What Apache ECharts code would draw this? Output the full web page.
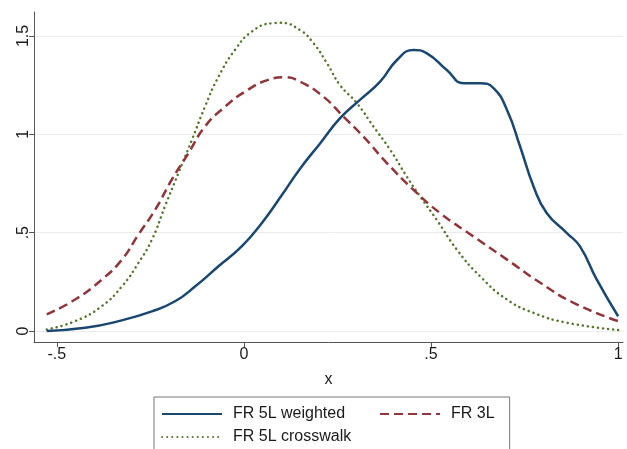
<!DOCTYPE html>
<html>
<head>
<meta charset="utf-8">
<script src="https://cdn.jsdelivr.net/npm/echarts@6/dist/echarts.min.js"></script>
<style>html,body{margin:0;padding:0;background:#fff;}#c{width:627px;height:449px;}</style>
</head>
<body>
<div id="c"></div>
<script>
// ---- data ----
const seriesNames = ['FR 5L weighted', 'FR 3L', 'FR 5L crosswalk'];

const weightedX = [-0.527,-0.424,-0.335,-0.246,-0.184,-0.13,-0.068,-0.006,0.048,0.101,0.150,0.204,0.257,0.31,0.364,0.409,0.453,0.489,0.542,0.587,0.631,0.667,0.703,0.738,0.774,0.809,0.863,0.898,0.943,1.0];
const weightedY = [0.0,0.016,0.05,0.10,0.151,0.227,0.329,0.43,0.549,0.69,0.825,0.955,1.082,1.175,1.268,1.378,1.429,1.412,1.327,1.26,1.26,1.235,1.124,0.938,0.735,0.60,0.498,0.43,0.261,0.075];

const threeLX = [-0.527,-0.451,-0.38,-0.326,-0.282,-0.237,-0.193,-0.148,-0.104,-0.05,0.003,0.065,0.11,0.150,0.212,0.266,0.319,0.382,0.453,0.524,0.613,0.703,0.792,0.881,1.0];
const threeLY = [0.084,0.16,0.261,0.363,0.49,0.617,0.769,0.905,1.04,1.141,1.217,1.277,1.29,1.268,1.192,1.09,0.989,0.854,0.718,0.60,0.481,0.363,0.245,0.143,0.05];

const crossX = [-0.527,-0.451,-0.38,-0.326,-0.282,-0.246,-0.211,-0.175,-0.139,-0.104,-0.068,-0.024,0.021,0.075,0.097,0.150,0.186,0.222,0.257,0.302,0.346,0.391,0.435,0.471,0.515,0.569,0.631,0.703,0.774,0.863,1.0];
const crossY = [0.008,0.05,0.126,0.227,0.346,0.464,0.634,0.803,0.972,1.141,1.293,1.429,1.522,1.565,1.567,1.53,1.463,1.361,1.25,1.158,1.04,0.921,0.786,0.684,0.566,0.414,0.278,0.16,0.092,0.042,0.005];

const xTicks = [-0.5, 0, 0.5, 1];
const yTicks = [0, 0.5, 1, 1.5];

// ---- chart ----
function fmt(v){ if (v === 0) return '0'; return String(v).replace('0.', '.'); }
function pairs(xs, ys){ return xs.map((x,i)=>[x, ys[i]]); }

const FONT = 'Liberation Sans, Arial, Helvetica, sans-serif';
const colors = ['#1a476f', '#90353b', '#55752f'];
const legendText = { fontFamily: FONT, fontSize: 16, color: '#1a1a1a', lineHeight: 18, padding: [0,0,0,6] };

const chart = echarts.init(document.getElementById('c'), null, {renderer:'canvas'});
chart.setOption({
  animation: false,
  backgroundColor: '#ffffff',
  grid: { left: 34, right: 4, top: 12, bottom: 107, containLabel: false },
  xAxis: {
    type: 'value', min: -0.561, max: 1.013,
    name: 'x', nameLocation: 'middle', nameGap: 30,
    nameTextStyle: { fontFamily: FONT, fontSize: 16, color: '#1a1a1a' },
    axisLine: { show: true, onZero: false, lineStyle: { color: '#555', width: 1 } },
    axisTick: { show: true, length: 5, customValues: xTicks, lineStyle: { color: '#555' } },
    axisLabel: { customValues: xTicks, formatter: fmt, margin: 5, fontFamily: FONT, fontSize: 16, color: '#1a1a1a' },
    splitLine: { show: false }
  },
  yAxis: {
    type: 'value', min: -0.056, max: 1.622,
    axisLine: { show: true, onZero: false, lineStyle: { color: '#555', width: 1 } },
    axisTick: { show: true, length: 5, customValues: yTicks, lineStyle: { color: '#555' } },
    axisLabel: { customValues: yTicks, formatter: fmt, rotate: 90, margin: 2, fontFamily: FONT, fontSize: 16, color: '#1a1a1a' },
    splitLine: { show: true, lineStyle: { color: '#ebebeb', width: 1 } }
  },
  legend: [
    {
      data: [seriesNames[0], seriesNames[1]],
      left: 154, top: 397, orient: 'horizontal',
      padding: [8, 15, 60, 7],
      borderColor: '#777', borderWidth: 1, backgroundColor: '#fff',
      itemWidth: 60, itemHeight: 14, itemGap: 34,
      itemStyle: { opacity: 0 },
      textStyle: legendText
    },
    {
      data: [seriesNames[2]],
      left: 161, top: 428, orient: 'horizontal',
      padding: 0,
      itemWidth: 60, itemHeight: 14,
      itemStyle: { opacity: 0 },
      textStyle: legendText
    }
  ],
  series: [
    {
      name: seriesNames[0], type: 'line', data: pairs(weightedX, weightedY),
      smooth: 0.5, symbol: 'none', z: 3,
      lineStyle: { color: colors[0], width: 2.5, type: 'solid' },
      itemStyle: { color: colors[0] }
    },
    {
      name: seriesNames[1], type: 'line', data: pairs(threeLX, threeLY),
      smooth: 0.5, symbol: 'none', z: 2,
      lineStyle: { color: colors[1], width: 2.5, type: [9, 5] },
      itemStyle: { color: colors[1] }
    },
    {
      name: seriesNames[2], type: 'line', data: pairs(crossX, crossY),
      smooth: 0.5, symbol: 'none', z: 1,
      lineStyle: { color: colors[2], width: 2.5, type: [0.1, 5], cap: 'round' },
      itemStyle: { color: colors[2] }
    }
  ]
});
</script>
</body>
</html>
